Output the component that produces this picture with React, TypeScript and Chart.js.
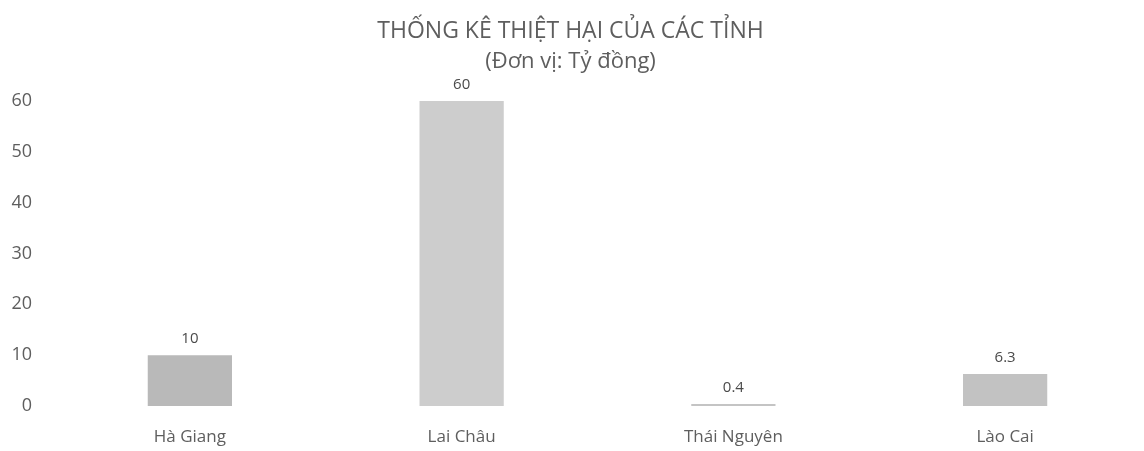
import React, { useEffect, useRef } from "react";
import { Chart, registerables } from "chart.js";

Chart.register(...registerables);

const categories = ["Hà Giang", "Lai Châu", "Thái Nguyên", "Lào Cai"];
const damageValues = [10, 60, 0.4, 6.3];
const yTicks = [0, 10, 20, 30, 40, 50, 60];
const titleText = "THỐNG KÊ THIỆT HẠI CỦA CÁC TỈNH";
const subtitleText = "(Đơn vị: Tỷ đồng)";

const FONT = "'Open Sans', 'Liberation Sans', sans-serif";
const TEXT = "#5e5e5e";

const valueLabels = {
  id: "valueLabels",
  afterDatasetsDraw(chart: any) {
    const ctx = chart.ctx;
    const meta = chart.getDatasetMeta(0);
    ctx.save();
    ctx.font = `15px ${FONT}`;
    ctx.fillStyle = "#4a4a4a";
    ctx.textAlign = "center";
    ctx.textBaseline = "middle";
    meta.data.forEach((bar: any, i: number) => {
      const v = chart.data.datasets[0].data[i];
      ctx.fillText(String(v), bar.x, bar.y - 16);
    });
    ctx.restore();
  },
};

export default function App() {
  const ref = useRef<HTMLCanvasElement | null>(null);
  useEffect(() => {
    if (!ref.current) return;
    const chart = new Chart(ref.current, {
      type: "bar",
      data: {
        labels: categories,
        datasets: [
          {
            data: damageValues,
            backgroundColor: ["#b9b9b9", "#cdcdcd", "#c4c4c4", "#c2c2c2"],
            borderWidth: 0,
            barPercentage: 0.31,
            categoryPercentage: 1,
          },
        ],
      },
      options: {
        responsive: false,
        animation: false,
        layout: { padding: { left: 0, right: 3, top: 0, bottom: 0 } },
        plugins: {
          legend: { display: false },
          tooltip: { enabled: false },
          title: {
            display: true,
            text: titleText,
            color: TEXT,
            font: { family: FONT, size: 23, weight: "normal" },
            padding: { top: 18, bottom: 3 },
          },
          subtitle: {
            display: true,
            text: subtitleText,
            color: TEXT,
            font: { family: FONT, size: 22, weight: "normal" },
            padding: { top: 0, bottom: 26 },
          },
        },
        scales: {
          x: {
            grid: { display: false, drawTicks: false },
            border: { display: false },
            ticks: {
              color: TEXT,
              font: { family: FONT, size: 17 },
              padding: 21,
            },
            afterFit: (s: any) => {
              s.height = 45;
            },
          },
          y: {
            min: 0,
            max: 60,
            grid: { display: false, drawTicks: false },
            border: { display: false },
            afterBuildTicks: (s: any) => {
              s.ticks = yTicks.map((v) => ({ value: v }));
            },
            ticks: {
              color: TEXT,
              font: { family: FONT, size: 18 },
              padding: 22,
            },
            afterFit: (s: any) => {
              s.width = 54;
            },
          },
        },
      },
      plugins: [valueLabels],
    });
    return () => chart.destroy();
  }, []);
  return (
    <div style={{ position: "fixed", left: 0, top: 0, width: 1144, height: 451, background: "#fff" }}>
      <canvas ref={ref} width={1144} height={451} />
    </div>
  );
}
